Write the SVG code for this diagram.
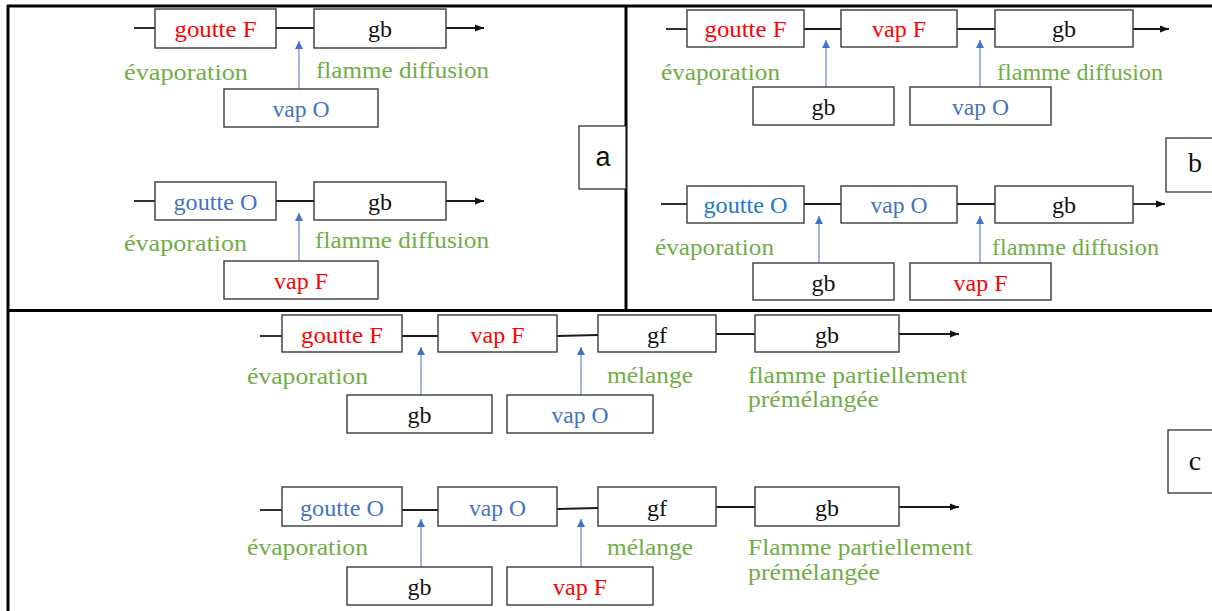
<svg xmlns="http://www.w3.org/2000/svg" width="1212" height="611" viewBox="0 0 1212 611">
<defs>
<style>
.frame{stroke:#000;stroke-width:3;fill:none}
.box{fill:#fff;stroke:#3a3a3a;stroke-width:1.4}
.tag{fill:#fff;stroke:#222;stroke-width:1.2}
.chain{stroke:#1a1a1a;stroke-width:1.8;fill:none}
.inj{stroke:#4472c4;stroke-width:1;fill:none}
text{font-family:"Liberation Serif","DejaVu Serif",serif;font-size:24px}
.bt{text-anchor:middle}
.red{fill:#ff0000}
.blue{fill:#4472c4}
.blue2{fill:#1f77c8}
.blk{fill:#111}
.grn{fill:#70ad47}
</style>
<marker id="ah" markerUnits="userSpaceOnUse" markerWidth="10" markerHeight="8" refX="9" refY="4" orient="auto"><path d="M0,0.5 L9,4 L0,7.5 z" fill="#111"/></marker>
<marker id="bh" markerUnits="userSpaceOnUse" markerWidth="8" markerHeight="10" refX="8" refY="4" orient="auto"><path d="M0,0 L8,4 L0,8 z" fill="#4472c4"/></marker>
</defs>

<g id="frame">
<line class="frame" x1="7" y1="6" x2="1212" y2="6"/>
<line class="frame" x1="8" y1="5" x2="8" y2="611"/>
<line class="frame" x1="626" y1="6" x2="626" y2="310"/>
<line class="frame" x1="8" y1="310.5" x2="1212" y2="310.5"/>
</g>

<g id="connectors">
<line class="chain" x1="134" y1="28" x2="155" y2="28"/>
<line class="chain" x1="276" y1="28" x2="314" y2="28"/>
<line class="chain" x1="446" y1="28" x2="484" y2="28" marker-end="url(#ah)"/>
<line class="inj" x1="299" y1="89" x2="299" y2="41" marker-end="url(#bh)"/>
<line class="chain" x1="134" y1="201" x2="155" y2="201"/>
<line class="chain" x1="276" y1="201" x2="314" y2="201"/>
<line class="chain" x1="446" y1="201" x2="484" y2="201" marker-end="url(#ah)"/>
<line class="inj" x1="299" y1="261" x2="299" y2="213" marker-end="url(#bh)"/>
<line class="chain" x1="666" y1="29" x2="687" y2="29"/>
<line class="chain" x1="804" y1="29" x2="841" y2="29"/>
<line class="chain" x1="957" y1="29" x2="995" y2="29"/>
<line class="chain" x1="1133" y1="29" x2="1169" y2="29" marker-end="url(#ah)"/>
<line class="inj" x1="826" y1="87" x2="826" y2="40" marker-end="url(#bh)"/>
<line class="inj" x1="980" y1="87" x2="980" y2="40" marker-end="url(#bh)"/>
<line class="chain" x1="661" y1="204" x2="687" y2="204"/>
<line class="chain" x1="804" y1="204" x2="841" y2="204"/>
<line class="chain" x1="957" y1="204" x2="995" y2="204"/>
<line class="chain" x1="1133" y1="204" x2="1165" y2="204" marker-end="url(#ah)"/>
<line class="inj" x1="819" y1="263" x2="819" y2="216" marker-end="url(#bh)"/>
<line class="inj" x1="980" y1="263" x2="980" y2="216" marker-end="url(#bh)"/>
<line class="chain" x1="260" y1="336" x2="282" y2="336"/>
<line class="chain" x1="402" y1="336" x2="438" y2="336"/>
<line class="chain" x1="557" y1="336" x2="598" y2="335"/>
<line class="chain" x1="716" y1="334" x2="755" y2="334"/>
<line class="chain" x1="899" y1="334" x2="959" y2="334" marker-end="url(#ah)"/>
<line class="inj" x1="421" y1="395" x2="421" y2="347" marker-end="url(#bh)"/>
<line class="inj" x1="581" y1="395" x2="581" y2="347" marker-end="url(#bh)"/>
<line class="chain" x1="260" y1="510" x2="282" y2="510"/>
<line class="chain" x1="402" y1="510" x2="438" y2="510"/>
<line class="chain" x1="557" y1="509" x2="598" y2="508"/>
<line class="chain" x1="716" y1="507" x2="755" y2="507"/>
<line class="chain" x1="899" y1="507" x2="959" y2="507" marker-end="url(#ah)"/>
<line class="inj" x1="421" y1="567" x2="421" y2="519" marker-end="url(#bh)"/>
<line class="inj" x1="581" y1="567" x2="581" y2="519" marker-end="url(#bh)"/>
</g>

<g id="a1-goutteF"><rect class="box" x="155" y="9" width="121" height="39"/><text class="bt red" x="215.5" y="37" textLength="82" lengthAdjust="spacingAndGlyphs">goutte F</text></g>
<g id="a1-gb"><rect class="box" x="314" y="9" width="132" height="39"/><text class="bt blk" x="380" y="37">gb</text></g>
<g id="a1-vapO"><rect class="box" x="224" y="89" width="154" height="38"/><text class="bt blue" x="301" y="117" textLength="57" lengthAdjust="spacingAndGlyphs">vap O</text></g>
<g id="a1-labels"><text class="grn" x="124" y="80" textLength="124" lengthAdjust="spacingAndGlyphs">évaporation</text><text class="grn" x="316" y="78" textLength="173" lengthAdjust="spacingAndGlyphs">flamme diffusion</text></g>

<g id="a2-goutteO"><rect class="box" x="155" y="182" width="121" height="38"/><text class="bt blue" x="215.5" y="210" textLength="84" lengthAdjust="spacingAndGlyphs">goutte O</text></g>
<g id="a2-gb"><rect class="box" x="314" y="182" width="132" height="38"/><text class="bt blk" x="380" y="210">gb</text></g>
<g id="a2-vapF"><rect class="box" x="224" y="261" width="154" height="38"/><text class="bt red" x="301" y="289" textLength="54" lengthAdjust="spacingAndGlyphs">vap F</text></g>
<g id="a2-labels"><text class="grn" x="124" y="251" textLength="123" lengthAdjust="spacingAndGlyphs">évaporation</text><text class="grn" x="315" y="248" textLength="174" lengthAdjust="spacingAndGlyphs">flamme diffusion</text></g>

<g id="tag-a"><rect class="tag" x="579" y="126" width="47" height="63"/><text x="603" y="166" text-anchor="middle" style="font-family:'Liberation Sans',Arial,sans-serif;font-size:27px" class="blk">a</text></g>

<g id="b1-goutteF"><rect class="box" x="687" y="10" width="117" height="37"/><text class="bt red" x="745.5" y="37" textLength="82" lengthAdjust="spacingAndGlyphs">goutte F</text></g>
<g id="b1-vapF"><rect class="box" x="841" y="10" width="116" height="37"/><text class="bt red" x="899" y="37" textLength="54" lengthAdjust="spacingAndGlyphs">vap F</text></g>
<g id="b1-gb"><rect class="box" x="995" y="10" width="138" height="37"/><text class="bt blk" x="1064" y="37">gb</text></g>
<g id="b1-gbin"><rect class="box" x="753" y="87" width="141" height="38"/><text class="bt blk" x="823.5" y="115">gb</text></g>
<g id="b1-vapO"><rect class="box" x="910" y="87" width="141" height="38"/><text class="bt blue" x="980.5" y="115" textLength="57" lengthAdjust="spacingAndGlyphs">vap O</text></g>
<g id="b1-labels"><text class="grn" x="661" y="80" textLength="119" lengthAdjust="spacingAndGlyphs">évaporation</text><text class="grn" x="997" y="80" textLength="166" lengthAdjust="spacingAndGlyphs">flamme diffusion</text></g>

<g id="b2-goutteO"><rect class="box" x="687" y="186" width="117" height="37"/><text class="bt blue2" x="745.5" y="213" textLength="84" lengthAdjust="spacingAndGlyphs">goutte O</text></g>
<g id="b2-vapO"><rect class="box" x="841" y="186" width="116" height="37"/><text class="bt blue" x="899" y="213" textLength="57" lengthAdjust="spacingAndGlyphs">vap O</text></g>
<g id="b2-gb"><rect class="box" x="995" y="186" width="138" height="37"/><text class="bt blk" x="1064" y="213">gb</text></g>
<g id="b2-gbin"><rect class="box" x="753" y="263" width="141" height="37"/><text class="bt blk" x="823.5" y="291">gb</text></g>
<g id="b2-vapF"><rect class="box" x="910" y="263" width="141" height="37"/><text class="bt red" x="980.5" y="291" textLength="54" lengthAdjust="spacingAndGlyphs">vap F</text></g>
<g id="b2-labels"><text class="grn" x="655" y="255" textLength="119" lengthAdjust="spacingAndGlyphs">évaporation</text><text class="grn" x="992" y="255" textLength="167" lengthAdjust="spacingAndGlyphs">flamme diffusion</text></g>

<g id="tag-b"><rect class="tag" x="1166" y="138" width="50" height="54"/><text x="1195" y="172" text-anchor="middle" style="font-size:28px" class="blk">b</text></g>

<g id="c1-goutteF"><rect class="box" x="282" y="315" width="120" height="37"/><text class="bt red" x="342" y="343" textLength="82" lengthAdjust="spacingAndGlyphs">goutte F</text></g>
<g id="c1-vapF"><rect class="box" x="438" y="315" width="119" height="37"/><text class="bt red" x="497.5" y="343" textLength="54" lengthAdjust="spacingAndGlyphs">vap F</text></g>
<g id="c1-gf"><rect class="box" x="598" y="315" width="118" height="37"/><text class="bt blk" x="657" y="343">gf</text></g>
<g id="c1-gb"><rect class="box" x="755" y="315" width="144" height="37"/><text class="bt blk" x="827" y="343">gb</text></g>
<g id="c1-gbin"><rect class="box" x="347" y="395" width="145" height="38"/><text class="bt blk" x="419.5" y="423">gb</text></g>
<g id="c1-vapO"><rect class="box" x="507" y="395" width="146" height="38"/><text class="bt blue" x="580" y="423" textLength="57" lengthAdjust="spacingAndGlyphs">vap O</text></g>
<g id="c1-labels"><text class="grn" x="247" y="384" textLength="121" lengthAdjust="spacingAndGlyphs">évaporation</text><text class="grn" x="607" y="383" textLength="86" lengthAdjust="spacingAndGlyphs">mélange</text><text class="grn" x="748" y="383" textLength="219" lengthAdjust="spacingAndGlyphs">flamme partiellement</text><text class="grn" x="748" y="407" textLength="131" lengthAdjust="spacingAndGlyphs">prémélangée</text></g>

<g id="c2-goutteO"><rect class="box" x="282" y="487" width="120" height="39"/><text class="bt blue" x="342" y="516" textLength="84" lengthAdjust="spacingAndGlyphs">goutte O</text></g>
<g id="c2-vapO"><rect class="box" x="438" y="487" width="119" height="39"/><text class="bt blue" x="497.5" y="516" textLength="57" lengthAdjust="spacingAndGlyphs">vap O</text></g>
<g id="c2-gf"><rect class="box" x="598" y="487" width="118" height="39"/><text class="bt blk" x="657" y="516">gf</text></g>
<g id="c2-gb"><rect class="box" x="755" y="487" width="144" height="39"/><text class="bt blk" x="827" y="516">gb</text></g>
<g id="c2-gbin"><rect class="box" x="347" y="567" width="145" height="38"/><text class="bt blk" x="419.5" y="595">gb</text></g>
<g id="c2-vapF"><rect class="box" x="507" y="567" width="146" height="38"/><text class="bt red" x="580" y="595" textLength="54" lengthAdjust="spacingAndGlyphs">vap F</text></g>
<g id="c2-labels"><text class="grn" x="247" y="555" textLength="121" lengthAdjust="spacingAndGlyphs">évaporation</text><text class="grn" x="607" y="555" textLength="86" lengthAdjust="spacingAndGlyphs">mélange</text><text class="grn" x="748" y="555" textLength="224" lengthAdjust="spacingAndGlyphs">Flamme partiellement</text><text class="grn" x="748" y="580" textLength="132" lengthAdjust="spacingAndGlyphs">prémélangée</text></g>

<g id="tag-c"><rect class="tag" x="1168" y="430" width="50" height="63"/><text x="1195" y="470" text-anchor="middle" style="font-size:28px" class="blk">c</text></g>
</svg>
